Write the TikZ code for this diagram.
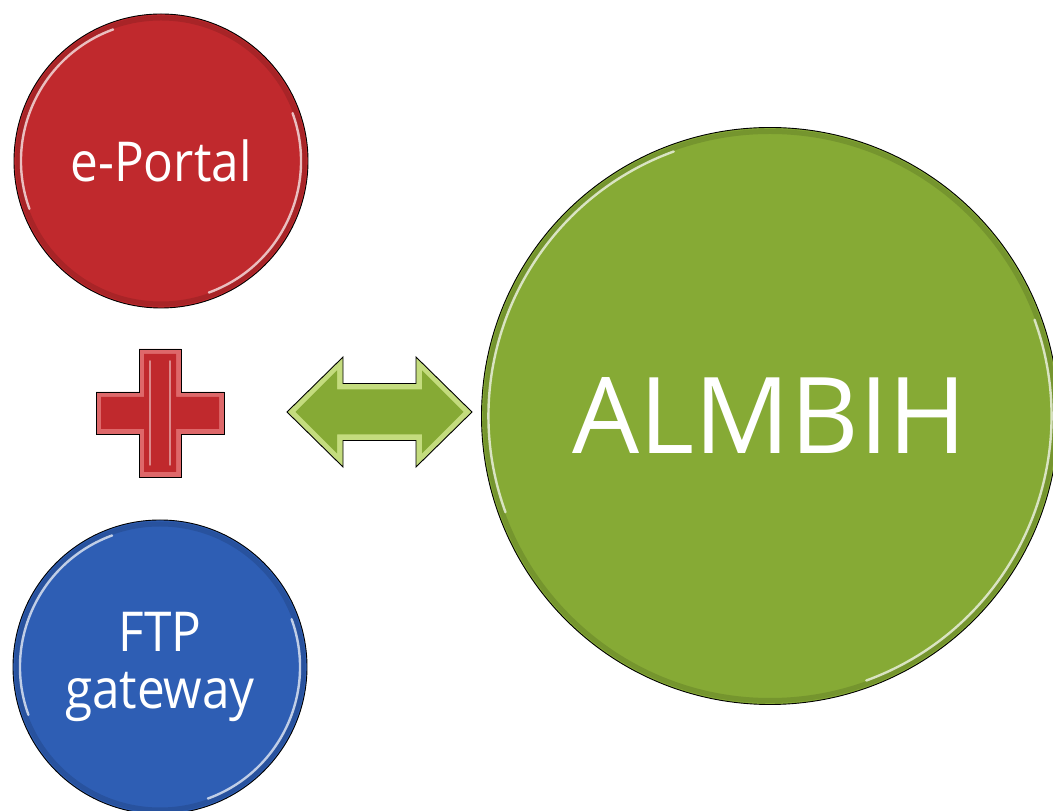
\documentclass[tikz,border=0pt]{standalone}
\usepackage{fontspec}
\setmainfont{Open Sans}
\newfontfamily\labelfont[FakeStretch=0.9]{Open Sans}

\definecolor{portalred}{RGB}{192,41,45}
\definecolor{portalpink}{RGB}{222,104,106}
\definecolor{gateblue}{RGB}{46,94,180}
\definecolor{almgreen}{RGB}{134,170,53}
\definecolor{almlight}{RGB}{196,220,126}

\tikzset{
  bubble/.style={circle, draw=black, line width=0.9pt, text=white, inner sep=0pt, align=center},
  shine/.style={white, opacity=0.7, line width=2.4pt, line cap=round},
  rim/.style={black, opacity=0.12, line width=5pt},
}

% glossy highlights along the rim of a round node
\newcommand{\glossrim}[2]{%
  \draw[rim] (#1.center) circle[radius=#2-4];
  \draw[shine] (#1.center) ++(110:#2-7) arc[start angle=110, end angle=200, radius=#2-7];
  \draw[shine] (#1.center) ++(290:#2-7) arc[start angle=290, end angle=380, radius=#2-7];
}

\begin{document}
\begin{tikzpicture}[x=1pt,y=1pt]
    \useasboundingbox (0,0) rectangle (1053,811);

    % left column
    \node[bubble, fill=portalred, minimum size=294pt, font=\labelfont\fontsize{55}{57}\selectfont] (portal) at (161,650) {e-Portal};
    \glossrim{portal}{147}
    \node[bubble, fill=gateblue, minimum size=294pt, font=\labelfont\fontsize{55}{57}\selectfont] (ftp) at (160,144) {FTP\\gateway};
    \glossrim{ftp}{147}

    % plus sign
    \coordinate (plus) at (160,398);
    \fill[portalpink, draw=black, line width=0.9pt] (plus) ++(-21,64) -- ++(42,0) -- ++(0,-43) -- ++(43,0) -- ++(0,-42)
        -- ++(-43,0) -- ++(0,-43) -- ++(-42,0) -- ++(0,43) -- ++(-43,0) -- ++(0,42) -- ++(43,0) -- cycle;
    \fill[portalred] (plus) ++(-16,59) -- ++(32,0) -- ++(0,-43) -- ++(43,0) -- ++(0,-32)
        -- ++(-43,0) -- ++(0,-43) -- ++(-32,0) -- ++(0,43) -- ++(-43,0) -- ++(0,32) -- ++(43,0) -- cycle;
    \foreach \dx in {-10,10}
        \draw[shine, line width=1.5pt, opacity=0.45] (plus) ++(\dx,52) -- ++(0,-104);

    % double arrow
    \coordinate (link) at (379.5,399);
    \fill[almlight, draw=black, line width=0.9pt, shift={(link)}] (-92.5,0) -- (-36.5,55) -- (-36.5,28.5) -- (36.5,28.5)
        -- (36.5,55) -- (92.5,0) -- (36.5,-55) -- (36.5,-28.5) -- (-36.5,-28.5) -- (-36.5,-55) -- cycle;
    \fill[almgreen, shift={(link)}] (-84,0) -- (-42.5,41.5) -- (-42.5,22.5) -- (42.5,22.5)
        -- (42.5,41.5) -- (84,0) -- (42.5,-41.5) -- (42.5,-22.5) -- (-42.5,-22.5) -- (-42.5,-41.5) -- cycle;

    % right
    \node[bubble, fill=almgreen, minimum size=577pt, font=\fontsize{106}{110}\selectfont] (almbih) at (770,395) {ALMBIH};
    \glossrim{almbih}{288.5}
\end{tikzpicture}
\end{document}
